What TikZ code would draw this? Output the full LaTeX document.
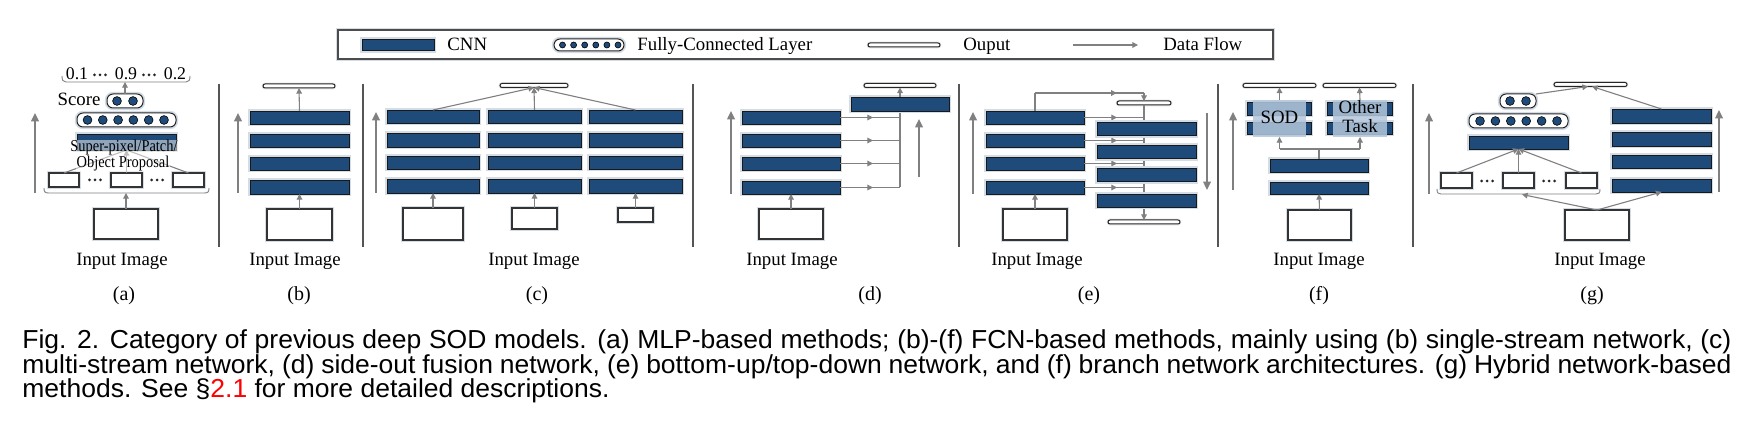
\documentclass[tikz,border=0pt]{standalone}
\usepackage{fontspec}
\setmainfont{Liberation Serif}
\newfontfamily\capfont{Liberation Sans}
\usepackage{graphicx}
\usetikzlibrary{arrows.meta,decorations.markings}
\definecolor{cnnblue}{RGB}{31,75,122}
\definecolor{flowgray}{RGB}{128,128,128}
\definecolor{glowc}{RGB}{212,220,230}
\definecolor{sodblue}{RGB}{180,199,220}
\definecolor{sepgray}{RGB}{85,85,85}
\tikzset{
 glow/.style={preaction={draw=glowc, line width=2.2pt}},
 softglow/.style={preaction={draw=black!10, line width=1.3pt}},
 cnn/.style={rectangle, draw=black!90, line width=0.4pt, fill=cnnblue, inner sep=0pt, outer sep=0pt, glow},
 inbox/.style={rectangle, draw=black!80, line width=0.55pt, fill=white, inner sep=0pt, outer sep=0pt, glow},
 outbar/.style={rectangle, rounded corners=1pt, draw=black!85, line width=0.5pt, fill=white, inner sep=0pt, outer sep=0pt, softglow},
 fcbox/.style={rectangle, rounded corners=3pt, draw=black!85, line width=0.5pt, fill=white, inner sep=0pt, outer sep=0pt, glow},
 sodbox/.style={rectangle, fill=sodblue, fill opacity=0.85, inner sep=0pt, outer sep=0pt},
 legbox/.style={rectangle, draw=black!70, line width=0.55pt, fill=white, inner sep=0pt, outer sep=0pt, glow},
 fcdot/.style={circle, fill=cnnblue, draw=black, line width=0.3pt, minimum size=4.4pt, inner sep=0pt},
 fcdotsm/.style={fcdot, minimum size=3pt},
 flow/.style={color=flowgray, line width=0.55pt, -{Triangle[length=2.8pt,width=2.8pt]}},
 flowline/.style={color=flowgray, line width=0.55pt},
 midarr/.style={postaction={decorate}, decoration={markings, mark=at position #1 with {\arrow{Triangle[length=2.8pt,width=2.8pt]}}}},
 bigflow/.style={color=flowgray, line width=0.9pt, -{Triangle[length=4.2pt,width=3.8pt]}},
 brk/.style={color=flowgray, line width=0.45pt},
 sep/.style={draw=sepgray, line width=0.6pt},
 lbl/.style={font=\fontsize{9.4}{11}\selectfont, inner sep=0pt, anchor=base},
 sublbl/.style={font=\fontsize{10}{12}\selectfont, inner sep=0pt, anchor=base},
 lblv/.style={font=\fontsize{8.9}{10}\selectfont, inner sep=0pt, anchor=base},
 legtxt/.style={font=\fontsize{9.4}{11}\selectfont, inner sep=0pt, anchor=base west},
 sptext/.style={font=\fontsize{8.3}{9}\selectfont, inner sep=0.4pt, anchor=base, fill=white, fill opacity=0.5, text opacity=1},
 capnode/.style={anchor=base west, inner sep=0pt, font=\capfont\fontsize{13}{15}\selectfont},
}
\newcommand\bx[6]{\node[#1, minimum width={(#5-#3)*0.5pt}, minimum height={(#6-#4)*0.5pt}] (#2) at ({(#3+#5)/2},{(#4+#6)/2}) {};}
\newcommand\threedots[2]{\foreach \k in {-1,0,1} {\fill[black!85] ({#1+\k*5.5},#2) circle (1.5);}}
\newcommand\bigarrow[4]{\coordinate (#1-s) at (#2,#3); \coordinate (#1-e) at (#2,#4); \draw[bigflow] (#1-s) -- (#1-e);}
\begin{document}
\begin{tikzpicture}[x=0.5pt,y=-0.5pt]
\fill[white] (0,0) rectangle (1745,422);
\useasboundingbox (0,0) rectangle (1745,422);

% ---------------- legend ----------------
\bx{legbox}{l-box}{338}{30}{1273}{59}
\bx{cnn}{l-cnn}{362}{39.5}{434}{50.5}
\node[legtxt] (l-t1) at (447,51) {CNN};
\bx{fcbox}{l-fc}{554}{39}{624}{51}
\foreach \i in {0,...,5} \node[fcdotsm] (l-fc\i) at ({562.5+11.1*\i},45) {};
\node[legtxt] (l-t2) at (637,51) {Fully-Connected Layer};
\bx{outbar}{l-out}{868}{43}{940}{47}
\node[legtxt] (l-t3) at (963,51) {Ouput};
\coordinate (l-a1) at (1073,45);
\coordinate (l-a2) at (1138,45);
\draw[flow] (l-a1) -- (l-a2);
\node[legtxt] (l-t4) at (1163,51) {Data Flow};

% ---------------- separators ----------------
\foreach \sx in {219,363,693,959,1218,1413} \draw[sep] (\sx,84) -- (\sx,247);

% ---------------- (a) ----------------
\bigarrow{a-up}{35}{193}{113}
\bx{inbox}{a-in}{94}{209}{158}{239}
\bx{inbox}{a-b1}{49}{173}{79}{187}
\bx{inbox}{a-b2}{111}{173}{142}{187}
\bx{inbox}{a-b3}{173}{173}{204}{187}
\threedots{95}{180}
\threedots{157}{180}
\draw[brk] (44,188) .. controls (44,192) and (45,193) .. (49,193) -- (204,193) .. controls (208,193) and (209,192) .. (209,188);
\coordinate (a-brk) at (126,193);
\draw[flow] (a-in.north) -- (a-brk);
\bx{cnn}{a-cnn}{77}{134}{176}{150}
\draw[flowline] (a-b1.north) -- (a-cnn.south);
\draw[flowline] (a-b3.north) -- (a-cnn.south);
\draw[flow] (a-b2.north) -- (a-cnn.south);
\node[sptext] (a-t1) at (124,152) {\scalebox{0.87}[1]{Super-pixel/Patch/}};
\node[sptext] (a-t2) at (123,168) {\scalebox{0.87}[1]{Object Proposal}};
\bx{fcbox}{a-fc}{77}{113}{176}{127}
\foreach \i in {0,...,5} \node[fcdot] (a-fc\i) at ({87.5+15.3*\i},120) {};
\bx{fcbox}{a-sc}{107}{94}{143}{108}
\node[fcdot] (a-sc0) at (117,101) {};
\node[fcdot] (a-sc1) at (133,101) {};
\node[lbl] (a-score) at (79,106) {Score};
\node[lblv] (a-v1) at (77,80) {0.1};
\node[lblv] (a-v2) at (126,80) {0.9};
\node[lblv] (a-v3) at (175,80) {0.2};
\threedots{100}{75}
\threedots{149}{75}
\draw[brk] (62,76) .. controls (62,80) and (63,82) .. (66,82) -- (186,82) .. controls (189,82) and (190,80) .. (190,76);
\coordinate (a-val) at (125,82);
\draw[flow] (a-sc.north) -- (a-val);
\node[lbl] (a-lab) at (122,266) {Input Image};
\node[sublbl] (a-cap) at (124,300) {(a)};

% ---------------- (b) ----------------
\bigarrow{b-up}{238}{193}{113}
\bx{outbar}{b-out}{263}{84}{335}{88}
\bx{cnn}{b-c1}{250}{111}{349}{124}
\bx{cnn}{b-c2}{250}{134}{349}{147}
\bx{cnn}{b-c3}{250}{157}{349}{170}
\bx{cnn}{b-c4}{250}{180}{349}{194}
\bx{inbox}{b-in}{267}{209}{332}{240}
\draw[flow] (b-in.north) -- (b-c4.south);
\draw[flow] (b-c1.north) -- (b-out.south);
\node[lbl] (b-lab) at (295,266) {Input Image};
\node[sublbl] (b-cap) at (299,300) {(b)};

% ---------------- (c) ----------------
\bigarrow{c-up}{376}{193}{112}
\bx{outbar}{c-out}{500}{83.5}{568}{87.5}
\foreach \col/\xa/\xb in {1/387/479,2/488/581,3/589/682}{
  \bx{cnn}{c\col r1}{\xa}{110}{\xb}{123}
  \bx{cnn}{c\col r2}{\xa}{133}{\xb}{147}
  \bx{cnn}{c\col r3}{\xa}{156}{\xb}{169}
  \bx{cnn}{c\col r4}{\xa}{179}{\xb}{193}
}
\draw[flow] (c1r1.north) -- (c-out.south);
\draw[flow] (c2r1.north) -- (c-out.south);
\draw[flow] (c3r1.north) -- (c-out.south);
\bx{inbox}{c-in1}{403}{208}{463}{240}
\bx{inbox}{c-in2}{512}{208}{557}{229}
\bx{inbox}{c-in3}{618}{208}{653}{222}
\draw[flow] (c-in1.north) -- (c1r4.south);
\draw[flow] (c-in2.north) -- (c2r4.south);
\draw[flow] (c-in3.north) -- (c3r4.south);
\node[lbl] (c-lab) at (534,266) {Input Image};
\node[sublbl] (c-cap) at (537,300) {(c)};

% ---------------- (d) ----------------
\bigarrow{d-up}{731}{194}{111}
\bigarrow{d-up2}{919}{177}{119}
\coordinate (d-j1) at (900,117.5);
\coordinate (d-j2) at (900,140.5);
\coordinate (d-j3) at (900,163.5);
\coordinate (d-j4) at (900,187.5);
\coordinate (d-jt) at (900,111);
\draw[flowline] (d-j4) -- (d-jt);
\bx{cnn}{d1}{742}{111}{840}{124}
\bx{cnn}{d2}{742}{134}{840}{147}
\bx{cnn}{d3}{742}{157}{840}{170}
\bx{cnn}{d4}{742}{181}{840}{194}
\draw[flowline, midarr=0.55] (d1.east) -- (d-j1);
\draw[flowline, midarr=0.55] (d2.east) -- (d-j2);
\draw[flowline, midarr=0.55] (d3.east) -- (d-j3);
\draw[flowline, midarr=0.55] (d4.east) -- (d-j4);
\bx{cnn}{d-top}{851}{97}{949}{111}
\bx{outbar}{d-out}{864}{83.5}{936}{87.5}
\draw[flow] (d-top.north) -- (d-out.south);
\bx{inbox}{d-in}{759}{209}{823}{239}
\draw[flow] (d-in.north) -- (d4.south);
\node[lbl] (d-lab) at (792,266) {Input Image};
\node[sublbl] (d-cap) at (870,300) {(d)};

% ---------------- (e) ----------------
\bigarrow{e-up}{973}{194}{112}
\bigarrow{e-dn}{1207}{113}{190}
\bx{outbar}{e-otop}{1117}{101}{1171}{105}
\bx{outbar}{e-obot}{1108}{220}{1180}{224}
\draw[flow] (e-otop.south) -- (e-obot.north);
\bx{cnn}{e1}{986}{111}{1084}{124}
\bx{cnn}{e2}{986}{134}{1084}{147}
\bx{cnn}{e3}{986}{157}{1084}{170}
\bx{cnn}{e4}{986}{181}{1084}{194}
\coordinate (e-j1) at (1144,117.5);
\coordinate (e-j2) at (1144,140.5);
\coordinate (e-j3) at (1144,163.5);
\coordinate (e-j4) at (1144,187.5);
\draw[flowline, midarr=0.55] (e1.east) -- (e-j1);
\draw[flowline, midarr=0.55] (e2.east) -- (e-j2);
\draw[flowline, midarr=0.55] (e3.east) -- (e-j3);
\draw[flowline, midarr=0.55] (e4.east) -- (e-j4);
\bx{cnn}{er1}{1097}{122}{1196}{135.5}
\bx{cnn}{er2}{1097}{145.5}{1196}{158.5}
\bx{cnn}{er3}{1097}{168.5}{1196}{181.5}
\bx{cnn}{er4}{1097}{194}{1196}{207}
\coordinate (e-t1) at (1035,93);
\coordinate (e-t2) at (1144,93);
\draw[flowline] (e1.north) -- (e-t1);
\draw[flowline, midarr=0.75] (e-t1) -- (e-t2);
\draw[flow] (e-t2) -- (e-otop.north);
\bx{inbox}{e-in}{1003}{209}{1067}{240}
\draw[flow] (e-in.north) -- (e4.south);
\node[lbl] (e-lab) at (1037,266) {Input Image};
\node[sublbl] (e-cap) at (1089,300) {(e)};

% ---------------- (f) ----------------
\bigarrow{f-up}{1233}{190}{112}
\bx{outbar}{f-o1}{1243}{83.5}{1316}{87.5}
\bx{outbar}{f-o2}{1323}{83.5}{1396}{87.5}
\bx{cnn}{f-s1}{1247}{102}{1311}{115}
\bx{cnn}{f-s2}{1247}{122}{1311}{134}
\bx{cnn}{f-t1}{1327}{102}{1392}{115}
\bx{cnn}{f-t2}{1327}{122}{1392}{134}
\bx{sodbox}{f-sod}{1253}{100}{1306}{137}
\bx{sodbox}{f-oth}{1333}{100}{1387}{137}
\node[lbl] (f-sodt) at (1279.5,124) {SOD};
\node[lbl] (f-otht1) at (1360,114) {Other};
\node[lbl] (f-otht2) at (1360,133) {Task};
\draw[flow] (f-sod.north) -- (f-o1.south);
\draw[flow] (f-oth.north) -- (f-o2.south);
\bx{cnn}{f-c1}{1270}{159}{1368}{172}
\bx{cnn}{f-c2}{1270}{182}{1368}{194}
\coordinate (f-br) at (1319,149);
\coordinate (f-brl) at (1279.5,149);
\coordinate (f-brr) at (1360,149);
\draw[flowline] (f-c1.north) -- (f-br);
\draw[flowline] (f-brl) -- (f-brr);
\draw[flow] (f-brl) -- (f-sod.south);
\draw[flow] (f-brr) -- (f-oth.south);
\bx{inbox}{f-in}{1288}{210}{1351}{240}
\draw[flow] (f-in.north) -- (f-c2.south);
\node[lbl] (f-lab) at (1319,266) {Input Image};
\node[sublbl] (f-cap) at (1319,300) {(f)};

% ---------------- (g) ----------------
\bigarrow{g-up}{1429}{194}{113}
\bigarrow{g-up2}{1719}{192}{110}
\bx{outbar}{g-out}{1554}{82.5}{1627}{86.5}
\coordinate (g-oa) at (1588,86.5);
\coordinate (g-ob) at (1592,86.5);
\bx{fcbox}{g-sc}{1500}{94}{1536}{108}
\node[fcdot] (g-sc0) at (1510,101) {};
\node[fcdot] (g-sc1) at (1526,101) {};
\bx{fcbox}{g-fc}{1469}{114}{1568}{128}
\foreach \i in {0,...,5} \node[fcdot] (g-fc\i) at ({1480+15.4*\i},121) {};
\bx{cnn}{g-cnn}{1469}{136}{1568}{149}
\bx{cnn}{g-r1}{1612}{109}{1711}{123}
\bx{cnn}{g-r2}{1612}{132}{1711}{146}
\bx{cnn}{g-r3}{1612}{155}{1711}{168}
\bx{cnn}{g-r4}{1612}{179}{1711}{192}
\draw[flow] (g-sc.north east) -- (g-oa);
\draw[flow] (g-r1.north) -- (g-ob);
\bx{inbox}{g-b1}{1441}{173}{1472}{188}
\bx{inbox}{g-b2}{1503}{173}{1534}{188}
\bx{inbox}{g-b3}{1566}{173}{1597}{188}
\threedots{1487}{181}
\threedots{1549}{181}
\draw[flow] (g-b1.north) -- (g-cnn.south);
\draw[flow] (g-b2.north) -- (g-cnn.south);
\draw[flow] (g-b3.north) -- (g-cnn.south);
\draw[brk] (1437,189) .. controls (1437,193) and (1438,194) .. (1441,194) -- (1596,194) .. controls (1599,194) and (1600,193) .. (1600,189);
\coordinate (g-bk) at (1522,194.5);
\bx{inbox}{g-in}{1565}{210}{1629}{240}
\draw[flow] (g-in.north) -- (g-bk);
\draw[flow] (g-in.north) -- (g-r4.south);
\node[lbl] (g-lab) at (1600,266) {Input Image};
\node[sublbl] (g-cap) at (1592,300) {(g)};

% ---------------- caption ----------------
\node[capnode] (cap1) at (22,348) {\scalebox{1.019}[1]{\makebox[838.6pt][s]{Fig. 2. Category of previous deep SOD models. (a) MLP-based methods; (b)-(f) FCN-based methods, mainly using (b) single-stream network, (c)}}};
\node[capnode] (cap2) at (22,373) {\scalebox{1.019}[1]{\makebox[838.6pt][s]{multi-stream network, (d) side-out fusion network, (e) bottom-up/top-down network, and (f) branch network architectures. (g) Hybrid network-based}}};
\node[capnode] (cap3) at (22,397) {\scalebox{1.019}[1]{methods. See §\textcolor{red}{2.1} for more detailed descriptions.}};
\end{tikzpicture}
\end{document}
